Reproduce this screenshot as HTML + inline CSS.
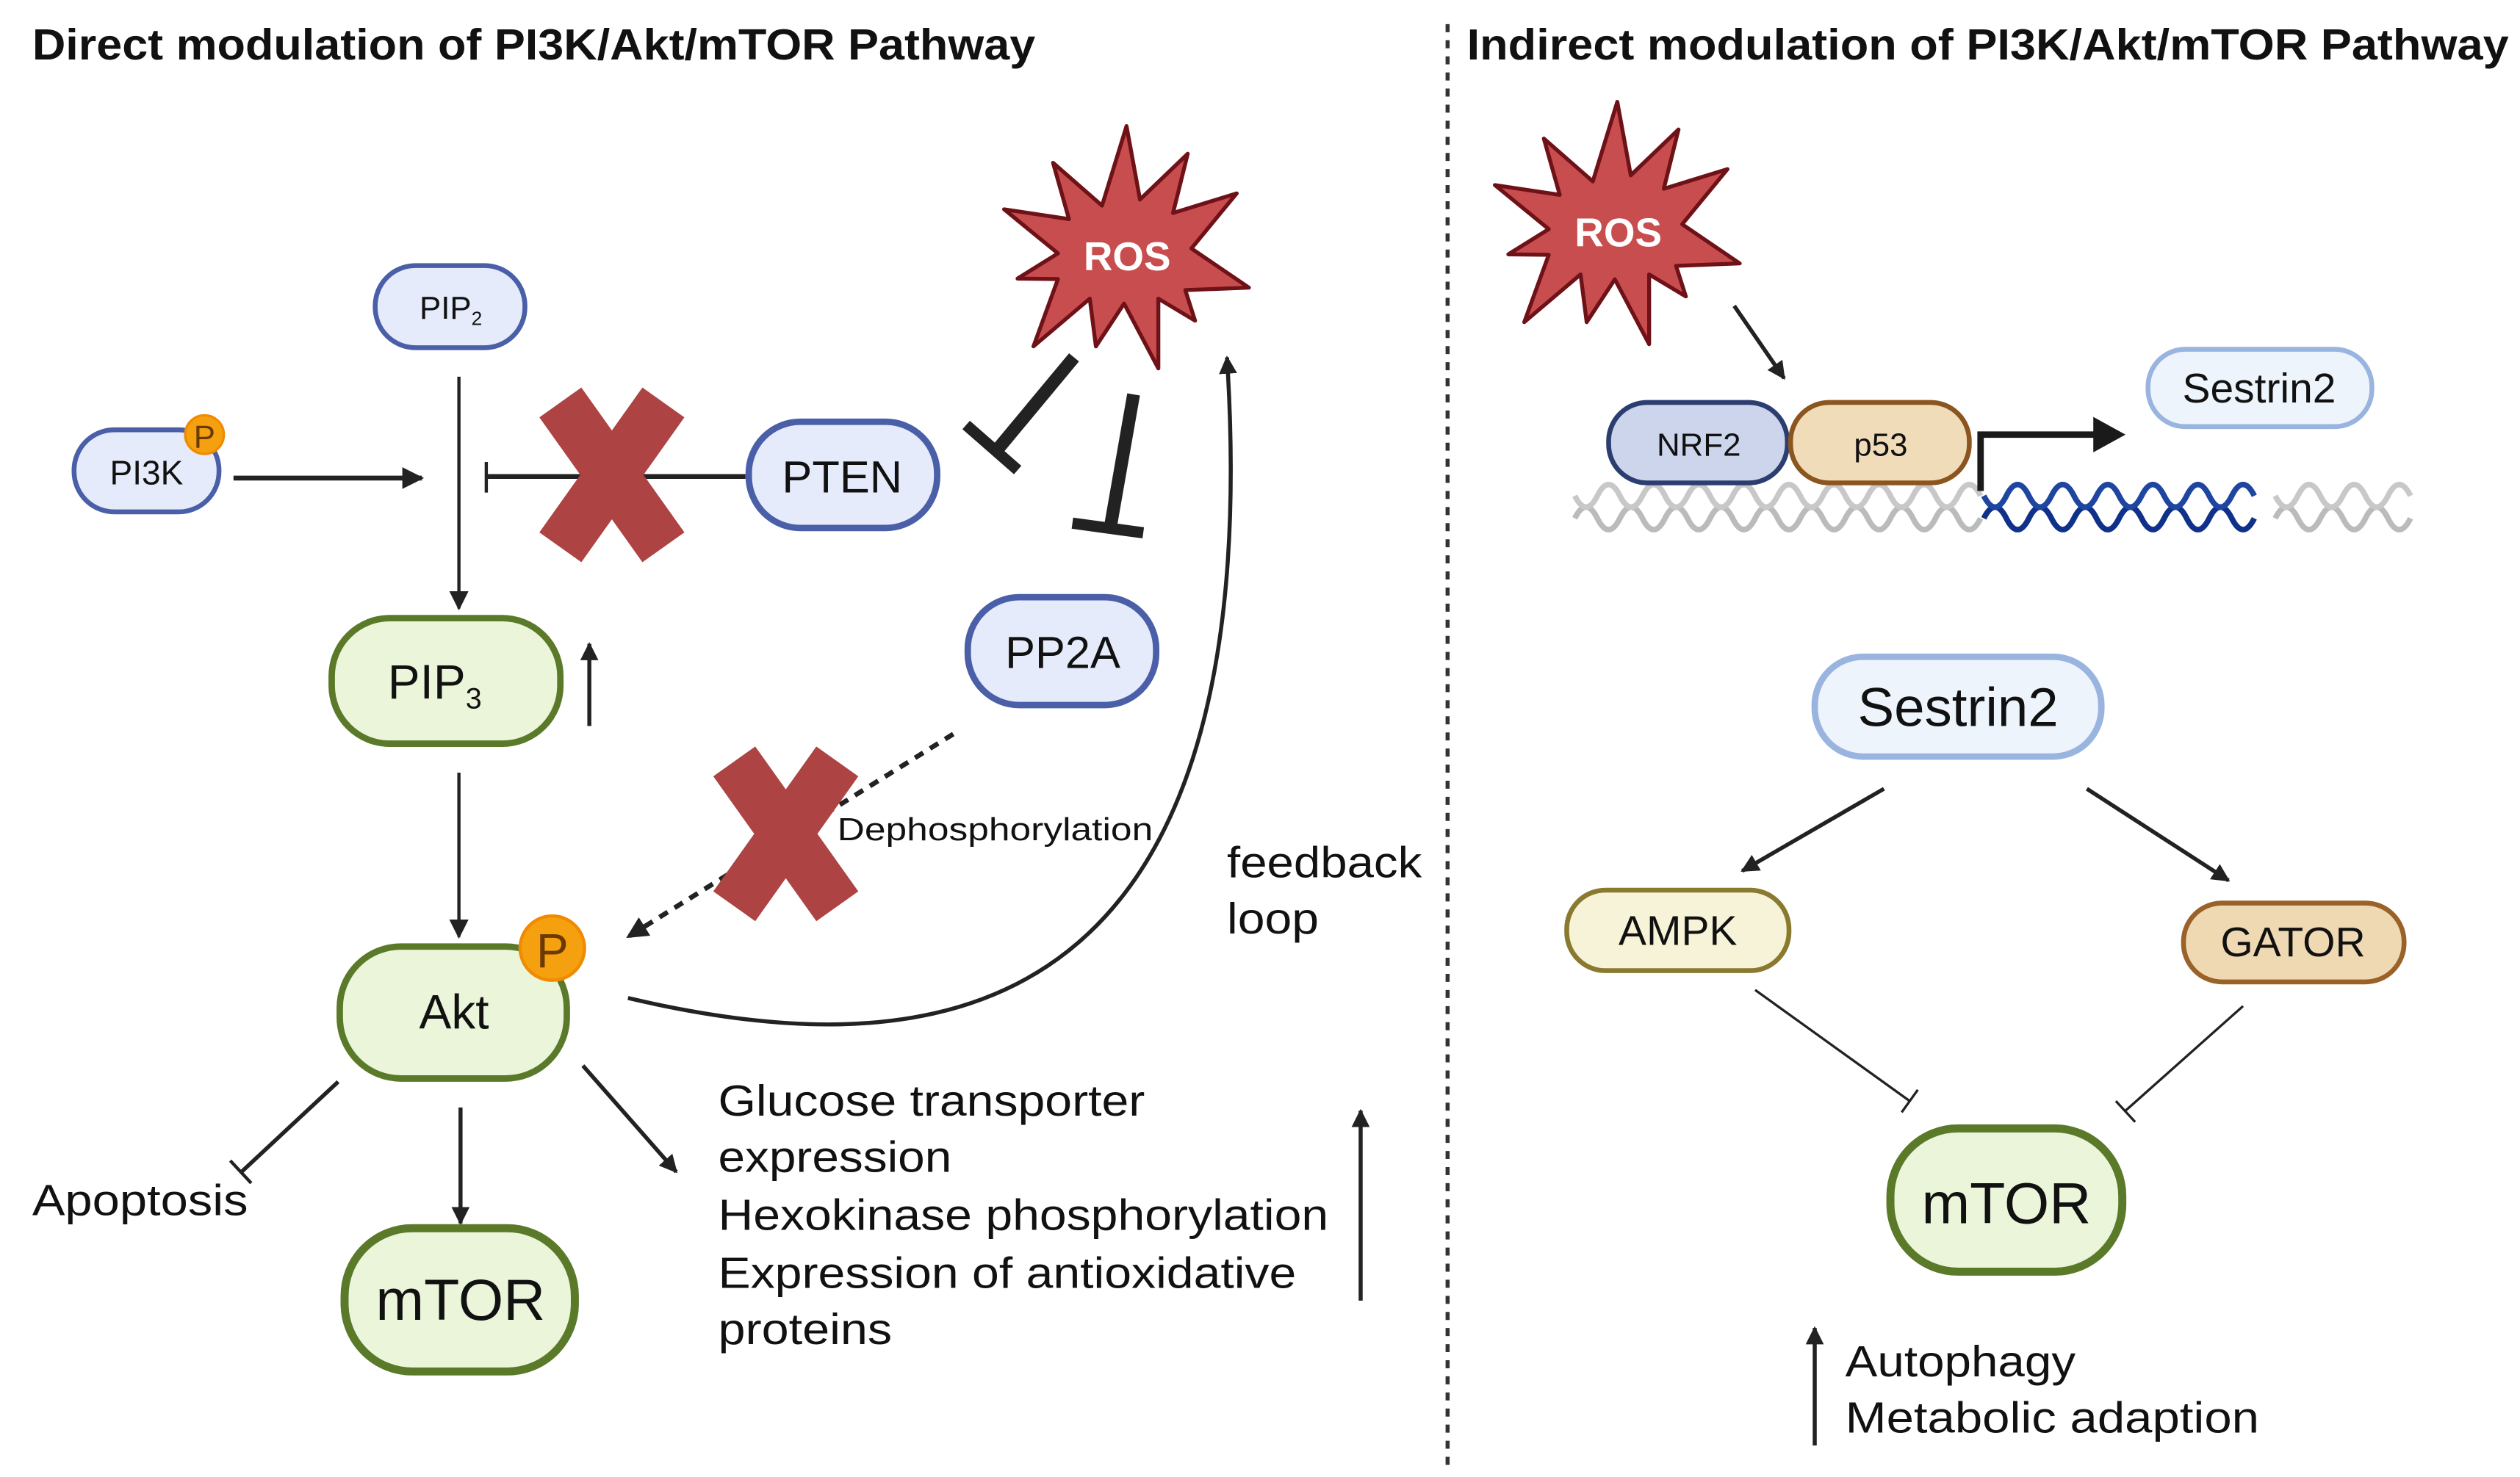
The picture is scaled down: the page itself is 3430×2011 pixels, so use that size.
<!DOCTYPE html>
<html><head><meta charset="utf-8"><style>
html,body{margin:0;padding:0;background:#fff;}
svg{display:block;}
text{font-family:"Liberation Sans",sans-serif;fill:#111;}
</style></head><body>
<svg width="3430" height="2011" viewBox="0 0 3430 2011" xmlns="http://www.w3.org/2000/svg">
<defs>
<marker id="ah" viewBox="0 0 10 10" refX="9" refY="5" markerWidth="4.5" markerHeight="4.5" orient="auto" markerUnits="strokeWidth"><path d="M0,0 L10,5 L0,10 z" fill="#222"/></marker>
<marker id="ahs" viewBox="0 0 10 10" refX="9" refY="5" markerWidth="6" markerHeight="6" orient="auto" markerUnits="strokeWidth"><path d="M0,0 L10,5 L0,10 z" fill="#222"/></marker>
<path id="star" d="M700,65 L755,365 L950,178 L890,420 L1150,340 L965,565 L1200,725 L940,735 L980,860 L830,770 L830,1055 L690,790 L575,965 L550,770 L320,965 L420,690 L255,688 L420,585 L200,405 L465,445 L400,215 L600,390 Z" fill="#c84d4f" stroke="#6e1218" stroke-width="16" stroke-linejoin="round"/>
</defs>
<rect width="3430" height="2011" fill="#fff"/>
<g transform="translate(1300,150) scale(0.3333)"><use href="#star"/></g>
<g transform="translate(1968,117) scale(0.3333)"><use href="#star"/></g>

<g transform="scale(2.1917)">
<text x="20" y="37" font-size="27" font-weight="bold" textLength="623" lengthAdjust="spacingAndGlyphs">Direct modulation of PI3K/Akt/mTOR Pathway</text>
<text x="911" y="37" font-size="27" font-weight="bold" textLength="647" lengthAdjust="spacingAndGlyphs">Indirect modulation of PI3K/Akt/mTOR Pathway</text>
<line x1="899" y1="15" x2="899" y2="910" stroke="#333" stroke-width="2.5" stroke-dasharray="5,5"/>

<text x="700" y="168" font-size="25" font-weight="bold" text-anchor="middle" style="fill:#fff">ROS</text>
<text x="1005" y="153" font-size="25" font-weight="bold" text-anchor="middle" style="fill:#fff">ROS</text>

<rect x="233" y="165" width="93" height="51" rx="25" fill="#e5ebfa" stroke="#4a5fa8" stroke-width="3"/>
<text x="280" y="198" font-size="20" text-anchor="middle">PIP<tspan font-size="12" dy="4">2</tspan></text>
<rect x="46" y="267" width="90" height="51" rx="25" fill="#e5ebfa" stroke="#4a5fa8" stroke-width="3"/>
<text x="91" y="301" font-size="21" text-anchor="middle">PI3K</text>
<circle cx="127" cy="270" r="12" fill="#f5a00f" stroke="#f08a00" stroke-width="1.5"/>
<text x="127" y="278" font-size="20" text-anchor="middle" style="fill:#6a3a00">P</text>

<line x1="145" y1="297" x2="262" y2="297" stroke="#222" stroke-width="3" marker-end="url(#ah)"/>
<line x1="285" y1="234" x2="285" y2="378" stroke="#222" stroke-width="2" marker-end="url(#ahs)"/>
<line x1="463" y1="296" x2="302" y2="296" stroke="#222" stroke-width="3"/>
<line x1="302" y1="287" x2="302" y2="306" stroke="#222" stroke-width="2"/>
<g transform="translate(380,295)"><line x1="-32" y1="-45" x2="32" y2="45" stroke="#ad4343" stroke-width="32"/><line x1="32" y1="-45" x2="-32" y2="45" stroke="#ad4343" stroke-width="32"/></g>
<rect x="465" y="262" width="117" height="66" rx="32" fill="#e5ebfa" stroke="#4a5fa8" stroke-width="4"/>
<text x="523" y="306" font-size="28" text-anchor="middle">PTEN</text>

<line x1="667" y1="222" x2="618" y2="281" stroke="#222" stroke-width="8"/>
<line x1="600" y1="264" x2="632" y2="292" stroke="#222" stroke-width="7"/>
<line x1="704" y1="245" x2="690" y2="325" stroke="#222" stroke-width="8"/>
<line x1="666" y1="325" x2="710" y2="331" stroke="#222" stroke-width="7"/>

<rect x="601" y="371" width="117" height="67" rx="32" fill="#e5ebfa" stroke="#4a5fa8" stroke-width="4"/>
<text x="660" y="415" font-size="28" text-anchor="middle">PP2A</text>

<rect x="206" y="384" width="142" height="78" rx="36" fill="#eaf5da" stroke="#5a7a2a" stroke-width="4"/>
<text x="270" y="434" font-size="30" text-anchor="middle">PIP<tspan font-size="18" dy="6">3</tspan></text>
<line x1="366" y1="451" x2="366" y2="400" stroke="#222" stroke-width="2.5" marker-end="url(#ah)"/>
<line x1="285" y1="480" x2="285" y2="582" stroke="#222" stroke-width="2" marker-end="url(#ahs)"/>

<line x1="592" y1="456" x2="390" y2="582" stroke="#222" stroke-width="3" stroke-dasharray="6,5" marker-end="url(#ah)"/>
<g transform="translate(488,518)"><line x1="-32" y1="-45" x2="32" y2="45" stroke="#ad4343" stroke-width="32"/><line x1="32" y1="-45" x2="-32" y2="45" stroke="#ad4343" stroke-width="32"/></g>
<text x="520" y="522" font-size="20" textLength="196" lengthAdjust="spacingAndGlyphs">Dephosphorylation</text>

<path d="M390,620 C560,660 790,660 762,222" fill="none" stroke="#222" stroke-width="2.5" marker-end="url(#ah)"/>
<text x="762" y="545" font-size="27" textLength="121" lengthAdjust="spacingAndGlyphs">feedback</text>
<text x="762" y="580" font-size="27" textLength="57" lengthAdjust="spacingAndGlyphs">loop</text>

<rect x="211" y="588" width="141" height="82" rx="38" fill="#eaf5da" stroke="#5a7a2a" stroke-width="4"/>
<text x="282" y="639" font-size="30" text-anchor="middle">Akt</text>
<circle cx="343" cy="589" r="20" fill="#f5a00f" stroke="#f08a00" stroke-width="2"/>
<text x="343" y="601" font-size="30" text-anchor="middle" style="fill:#6a3a00">P</text>

<line x1="286" y1="688" x2="286" y2="760" stroke="#222" stroke-width="2.5" marker-end="url(#ah)"/>
<rect x="214" y="763" width="143" height="89" rx="42" fill="#eaf5da" stroke="#5a7a2a" stroke-width="5"/>
<text x="286" y="820" font-size="36" text-anchor="middle">mTOR</text>

<line x1="210" y1="672" x2="150" y2="728" stroke="#222" stroke-width="2.5"/>
<line x1="143" y1="721" x2="156" y2="735" stroke="#222" stroke-width="2"/>
<text x="20" y="755" font-size="27" textLength="134" lengthAdjust="spacingAndGlyphs">Apoptosis</text>
<line x1="362" y1="662" x2="420" y2="728" stroke="#222" stroke-width="2.5" marker-end="url(#ah)"/>
<g font-size="27">
<text x="446" y="693" textLength="265" lengthAdjust="spacingAndGlyphs">Glucose transporter</text>
<text x="446" y="728" textLength="145" lengthAdjust="spacingAndGlyphs">expression</text>
<text x="446" y="764" textLength="379" lengthAdjust="spacingAndGlyphs">Hexokinase phosphorylation</text>
<text x="446" y="800" textLength="359" lengthAdjust="spacingAndGlyphs">Expression of antioxidative</text>
<text x="446" y="835" textLength="108" lengthAdjust="spacingAndGlyphs">proteins</text>
</g>
<line x1="845" y1="808" x2="845" y2="690" stroke="#222" stroke-width="2.5" marker-end="url(#ah)"/>

<line x1="1077" y1="190" x2="1108" y2="235" stroke="#222" stroke-width="2.5" marker-end="url(#ah)"/>
<g fill="none" stroke-width="3.5">
<path d="M978,322 q7,-14 14,0 t14,0 t14,0 t14,0 t14,0 t14,0 t14,0 t14,0 t14,0 t14,0 t14,0 t14,0 t14,0 t14,0 t14,0 t14,0 t14,0 t14,0" stroke="#bbb"/>
<path d="M978,308 q7,14 14,0 t14,0 t14,0 t14,0 t14,0 t14,0 t14,0 t14,0 t14,0 t14,0 t14,0 t14,0 t14,0 t14,0 t14,0 t14,0 t14,0 t14,0" stroke="#c8c8c8"/>
<path d="M1232,322 q7,-14 14,0 t14,0 t14,0 t14,0 t14,0 t14,0 t14,0 t14,0 t14,0 t14,0 t14,0 t14,0" stroke="#10318a"/>
<path d="M1232,308 q7,14 14,0 t14,0 t14,0 t14,0 t14,0 t14,0 t14,0 t14,0 t14,0 t14,0 t14,0 t14,0" stroke="#1e45a0"/>
<path d="M1413,322 q7,-14 14,0 t14,0 t14,0 t14,0 t14,0 t14,0" stroke="#bbb"/>
<path d="M1413,308 q7,14 14,0 t14,0 t14,0 t14,0 t14,0 t14,0" stroke="#c8c8c8"/>
</g>
<rect x="999" y="250" width="111" height="50" rx="24" fill="#cdd5ec" stroke="#2c3e70" stroke-width="3"/>
<text x="1055" y="283" font-size="20" text-anchor="middle">NRF2</text>
<rect x="1112" y="250" width="111" height="50" rx="24" fill="#f0dcb9" stroke="#8b5520" stroke-width="3"/>
<text x="1168" y="283" font-size="20" text-anchor="middle">p53</text>
<path d="M1230,305 L1230,270 L1302,270" fill="none" stroke="#1a1a1a" stroke-width="4"/>
<path d="M1300,259 L1320,270 L1300,281 Z" fill="#1a1a1a"/>
<rect x="1334" y="217" width="139" height="48" rx="23" fill="#eef4fc" stroke="#9ab4e0" stroke-width="3"/>
<text x="1403" y="250" font-size="26" text-anchor="middle">Sestrin2</text>

<rect x="1127" y="408" width="178" height="62" rx="30" fill="#eef4fc" stroke="#9ab4e0" stroke-width="4"/>
<text x="1216" y="451" font-size="34" text-anchor="middle">Sestrin2</text>
<line x1="1170" y1="490" x2="1082" y2="541" stroke="#222" stroke-width="2.5" marker-end="url(#ah)"/>
<line x1="1296" y1="490" x2="1384" y2="547" stroke="#222" stroke-width="2.5" marker-end="url(#ah)"/>
<rect x="973" y="553" width="138" height="50" rx="24" fill="#f7f3d8" stroke="#8a7a30" stroke-width="3"/>
<text x="1042" y="587" font-size="26" text-anchor="middle">AMPK</text>
<rect x="1356" y="561" width="137" height="49" rx="24" fill="#efd9b3" stroke="#9a6228" stroke-width="3"/>
<text x="1424" y="594" font-size="26" text-anchor="middle">GATOR</text>
<line x1="1090" y1="615" x2="1186" y2="684" stroke="#222" stroke-width="1.5"/>
<line x1="1181" y1="691" x2="1191" y2="677" stroke="#222" stroke-width="1.5"/>
<line x1="1393" y1="625" x2="1320" y2="690" stroke="#222" stroke-width="1.5"/>
<line x1="1314" y1="684" x2="1326" y2="697" stroke="#222" stroke-width="1.5"/>
<rect x="1174" y="701" width="144" height="89" rx="42" fill="#eaf5da" stroke="#5a7a2a" stroke-width="5"/>
<text x="1246" y="760" font-size="36" text-anchor="middle">mTOR</text>
<line x1="1127" y1="898" x2="1127" y2="825" stroke="#222" stroke-width="2.5" marker-end="url(#ah)"/>
<text x="1146" y="855" font-size="27" textLength="143" lengthAdjust="spacingAndGlyphs">Autophagy</text>
<text x="1146" y="890" font-size="27" textLength="257" lengthAdjust="spacingAndGlyphs">Metabolic adaption</text>
</g>
</svg>
</body></html>
